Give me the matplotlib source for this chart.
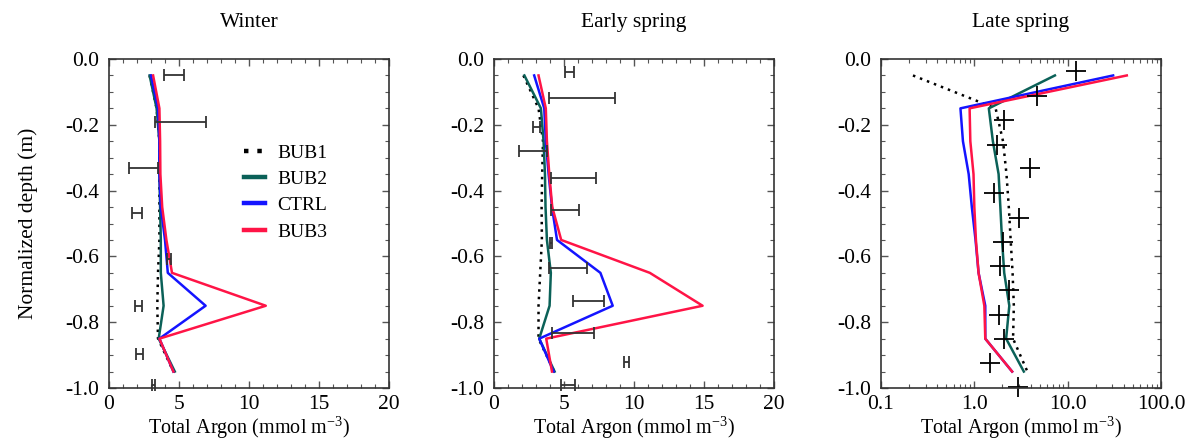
import matplotlib
matplotlib.use("Agg")
import matplotlib.pyplot as plt
import numpy as np
from matplotlib.ticker import MultipleLocator, FixedLocator, FuncFormatter, LogLocator, NullFormatter

plt.rcParams['font.family'] = ['Liberation Serif', 'DejaVu Serif']
plt.rcParams['mathtext.fontset'] = 'custom'
plt.rcParams['mathtext.rm'] = 'Liberation Serif'
plt.rcParams['axes.unicode_minus'] = False

# model layer depths (normalized)
depth = [-0.05, -0.15, -0.25, -0.35, -0.45, -0.55, -0.65, -0.75, -0.85, -0.95]

# Winter
w_bub1 = [2.9, 3.4, 3.6, 3.6, 3.6, 3.6, 3.5, 3.45, 3.5, 4.6]
w_bub2 = [2.9, 3.4, 3.6, 3.6, 3.65, 3.7, 3.7, 3.9, 3.55, 4.7]
w_ctrl = [3.0, 3.5, 3.6, 3.6, 3.7, 4.0, 4.2, 6.9, 3.6, 4.6]
w_bub3 = [3.15, 3.6, 3.65, 3.67, 3.8, 4.1, 4.5, 11.2, 3.6, 4.6]
w_obs_d = [-0.05, -0.19, -0.33, -0.468, -0.608, -0.75, -0.897, -0.99]
w_obs_x = [4.67, 5.1, 2.49, 1.98, 4.27, 2.1, 2.17, 3.2]
w_obs_e = [0.71, 1.8, 1.04, 0.36, 0.16, 0.24, 0.24, 0.1]

# Early spring
e_bub1 = [2.1, 3.18, 3.5, 3.44, 3.4, 3.42, 3.3, 3.18, 3.18, 4.3]
e_bub2 = [2.17, 3.35, 3.54, 3.64, 3.68, 3.78, 4.06, 3.97, 3.23, 4.33]
e_ctrl = [2.87, 3.59, 3.7, 3.9, 4.14, 4.5, 7.6, 8.48, 3.23, 4.26]
e_bub3 = [3.18, 3.7, 3.78, 3.95, 4.16, 4.8, 11.13, 14.9, 3.73, 4.14]
e_obs_d = [-0.04, -0.12, -0.206, -0.28, -0.363, -0.459, -0.558, -0.636, -0.735, -0.834, -0.922, -0.99]
e_obs_x = [5.4, 6.26, 3.06, 2.8, 5.68, 5.05, 4.04, 5.27, 6.74, 5.63, 9.45, 5.28]
e_obs_e = [0.3, 2.36, 0.24, 0.98, 1.63, 1.0, 0.07, 1.37, 1.1, 1.5, 0.18, 0.48]

# Late spring (log axis)
l_bub1 = [0.22, 1.69, 2.03, 2.21, 2.34, 2.45, 2.57, 2.65, 2.6, 3.7]
l_bub2 = [7.3, 1.43, 1.58, 1.82, 1.9, 1.98, 2.09, 2.37, 2.19, 3.39]
l_ctrl = [30.7, 0.71, 0.755, 0.87, 0.94, 1.03, 1.11, 1.31, 1.31, 2.54]
l_bub3 = [43.0, 0.89, 0.906, 0.98, 1.0, 1.04, 1.11, 1.28, 1.31, 2.54]
l_obs_d = [-0.036, -0.112, -0.185, -0.261, -0.332, -0.408, -0.482, -0.555, -0.628, -0.702, -0.778, -0.852, -0.925, -0.996]
l_obs_x = [12.2, 4.64, 2.1, 1.75, 3.94, 1.64, 2.99, 2.03, 1.9, 2.38, 1.86, 2.1, 1.49, 2.92]

titles = ['Winter', 'Early spring', 'Late spring']
labels = ['BUB1', 'BUB2', 'CTRL', 'BUB3']
colors = ['black', '#0b6158', '#1414ff', '#ff1446']

fig = plt.figure(figsize=(11.99, 4.40), dpi=100)
lefts = [109, 494, 881]
axes = [fig.add_axes([l / 1199, 1 - 388 / 440, 280 / 1199, 329 / 440]) for l in lefts]

series = [(w_bub1, w_bub2, w_ctrl, w_bub3), (e_bub1, e_bub2, e_ctrl, e_bub3), (l_bub1, l_bub2, l_ctrl, l_bub3)]

for i, ax in enumerate(axes):
    for j, vals in enumerate(series[i]):
        if j == 0:
            ax.plot(vals, depth, color=colors[j], lw=1.8, ls=(0, (1, 2)), label=labels[j])
        else:
            ax.plot(vals, depth, color=colors[j], lw=1.8, label=labels[j])
    ax.set_ylim(-1.0, 0.0)
    ax.yaxis.set_major_locator(MultipleLocator(0.2))
    ax.yaxis.set_minor_locator(MultipleLocator(0.05))
    ax.yaxis.set_major_formatter(FuncFormatter(lambda v, p: '%.1f' % v))
    ax.tick_params(which='both', direction='in', top=True, right=True, color='#555', labelsize=15.5)
    ax.tick_params(which='major', length=5, width=1)
    ax.tick_params(which='minor', length=3, width=0.8)
    ax.tick_params(axis='x', pad=5)
    ax.tick_params(axis='y', pad=7)
    for s in ax.spines.values():
        s.set_color('#333')
        s.set_linewidth(1.2)
    ax.set_title(titles[i], fontsize=15.5, pad=23)
    ax.set_xlabel(r'Total Argon (mmol m$^{\mathrm{-3}}$)', fontsize=14.5)
    ax.xaxis.set_label_coords(0.5, -0.078)

for ax, ox, od, oe in [(axes[0], w_obs_x, w_obs_d, w_obs_e), (axes[1], e_obs_x, e_obs_d, e_obs_e)]:
    ax.errorbar(ox, od, xerr=oe, fmt='none', ecolor='#333', elinewidth=1.3, capsize=4, capthick=1.3, clip_on=False)
    ax.set_xlim(0, 20)
    ax.xaxis.set_major_locator(MultipleLocator(5))
    ax.xaxis.set_minor_locator(MultipleLocator(1))

ax = axes[2]
ax.plot(l_obs_x, l_obs_d, ls='none', marker='+', color='black', ms=14, mew=1.3, clip_on=False)
ax.set_xscale('log')
ax.set_xlim(0.1, 100)
ax.xaxis.set_major_locator(FixedLocator([0.1, 1, 10, 100]))
ax.xaxis.set_major_formatter(FuncFormatter(lambda v, p: '%.1f' % v))
ax.xaxis.set_minor_locator(LogLocator(base=10, subs=np.arange(2, 10)))
ax.xaxis.set_minor_formatter(NullFormatter())

axes[0].set_ylabel('Normalized depth (m)', fontsize=15.5)
axes[0].yaxis.set_label_coords(-0.255, 0.5)
axes[0].legend(loc='upper left', bbox_to_anchor=(0.42, 0.795), frameon=False, fontsize=14,
               handlelength=1.1, labelspacing=0.45, handletextpad=0.6)
for line in axes[0].get_legend().get_lines():
    line.set_linewidth(3.2)

fig.savefig('out.png', dpi=100)
